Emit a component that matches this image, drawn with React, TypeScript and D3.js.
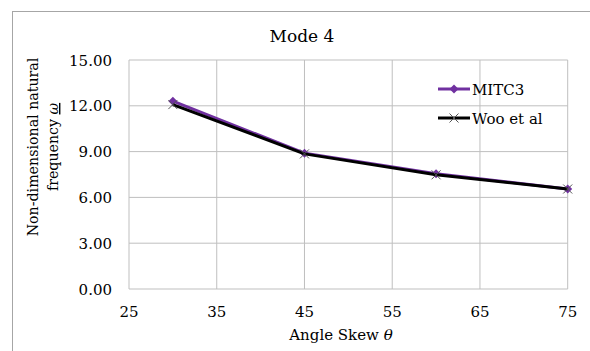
import React from 'react';
import * as d3 from 'd3';

const skewAngles = [30, 45, 60, 75];
const mitc3 = [12.3, 8.9, 7.55, 6.55];
const wooEtAl = [12.08, 8.85, 7.48, 6.55];
const xTicks = [25, 35, 45, 55, 65, 75];
const yTicks = [0, 3, 6, 9, 12, 15];

const W = 590;
const H = 351;
const margin = { top: 60, right: 22, bottom: 62, left: 129 };
const font = 'DejaVu Serif';
const fs = 15;

const App = () => {
  const x = d3.scaleLinear().domain([25, 75]).range([margin.left, W - margin.right - 0.3]);
  const y = d3.scaleLinear().domain([0, 15]).range([H - margin.bottom, margin.top]);

  const line = d3.line<number>()
    .x((d, i) => x(skewAngles[i]))
    .y((d) => y(d));

  const diamond = (cx: number, cy: number, r = 4.5) =>
    `M${cx},${cy - r}L${cx + r},${cy}L${cx},${cy + r}L${cx - r},${cy}Z`;
  const cross = (cx: number, cy: number, r = 4.5) =>
    `M${cx - r},${cy - r}L${cx + r},${cy + r}M${cx - r},${cy + r}L${cx + r},${cy - r}`;

  const purple = '#7030a0';

  return (
    <svg width={W} height={H} style={{ position: 'absolute', left: 0, top: 0, background: '#fff' }}>
      {/* chart frame, cut off at right and bottom */}
      <rect x={12.5} y={11.5} width={W} height={H} fill="#fff" stroke="#a6a6a6" strokeWidth={1} />

      <text x={302} y={42} textAnchor="middle" fontFamily={font} fontSize={17} fill="#000">Mode 4</text>

      {/* grid */}
      {xTicks.map((t) => (
        <line key={'gx' + t} x1={x(t)} x2={x(t)} y1={y(0)} y2={y(15)} stroke="#bfbfbf" strokeWidth={1} />
      ))}
      {yTicks.map((t) => (
        <line key={'gy' + t} x1={x(25)} x2={x(75)} y1={y(t)} y2={y(t)} stroke="#bfbfbf" strokeWidth={1} />
      ))}

      {/* tick labels */}
      {yTicks.map((t) => (
        <text key={'ty' + t} x={112} y={y(t) + 5.5} textAnchor="end" fontFamily={font} fontSize={fs} fill="#000">
          {t.toFixed(2)}
        </text>
      ))}
      {xTicks.map((t) => (
        <text key={'tx' + t} x={x(t)} y={316.5} textAnchor="middle" fontFamily={font} fontSize={fs} fill="#000">
          {t}
        </text>
      ))}

      {/* axis titles */}
      <text x={341} y={340} textAnchor="middle" fontFamily={font} fontSize={fs} fill="#000">
        Angle Skew <tspan fontStyle="italic">θ</tspan>
      </text>
      <g transform={`translate(0, 147) rotate(-90)`}>
        <text x={0} y={38} textAnchor="middle" fontFamily={font} fontSize={14.2} fill="#000">Non-dimensional natural</text>
        <text x={0} y={58} textAnchor="middle" fontFamily={font} fontSize={14.2} fill="#000">
          frequency <tspan fontStyle="italic" textDecoration="underline">ω</tspan>
        </text>
      </g>

      {/* MITC3 series */}
      <path d={line(mitc3) ?? ''} fill="none" stroke={purple} strokeWidth={3} strokeLinejoin="round" />
      {mitc3.map((v, i) => (
        <path key={'m' + i} d={diamond(x(skewAngles[i]), y(v))} fill={purple} />
      ))}

      {/* Woo et al series */}
      <path d={line(wooEtAl) ?? ''} fill="none" stroke="#000" strokeWidth={3} strokeLinejoin="round" />
      {wooEtAl.map((v, i) => (
        <path key={'w' + i} d={cross(x(skewAngles[i]), y(v))} fill="none" stroke="#555" strokeWidth={1} />
      ))}

      {/* legend */}
      <line x1={438} x2={470} y1={89} y2={89} stroke={purple} strokeWidth={3} />
      <path d={diamond(454, 89)} fill={purple} />
      <text x={472} y={94.5} fontFamily={font} fontSize={fs} fill="#000">MITC3</text>
      <line x1={438} x2={470} y1={118} y2={118} stroke="#000" strokeWidth={3} />
      <path d={cross(454, 118)} fill="none" stroke="#555" strokeWidth={1} />
      <text x={472} y={123.5} fontFamily={font} fontSize={fs} fill="#000">Woo et al</text>
    </svg>
  );
};

export default App;
